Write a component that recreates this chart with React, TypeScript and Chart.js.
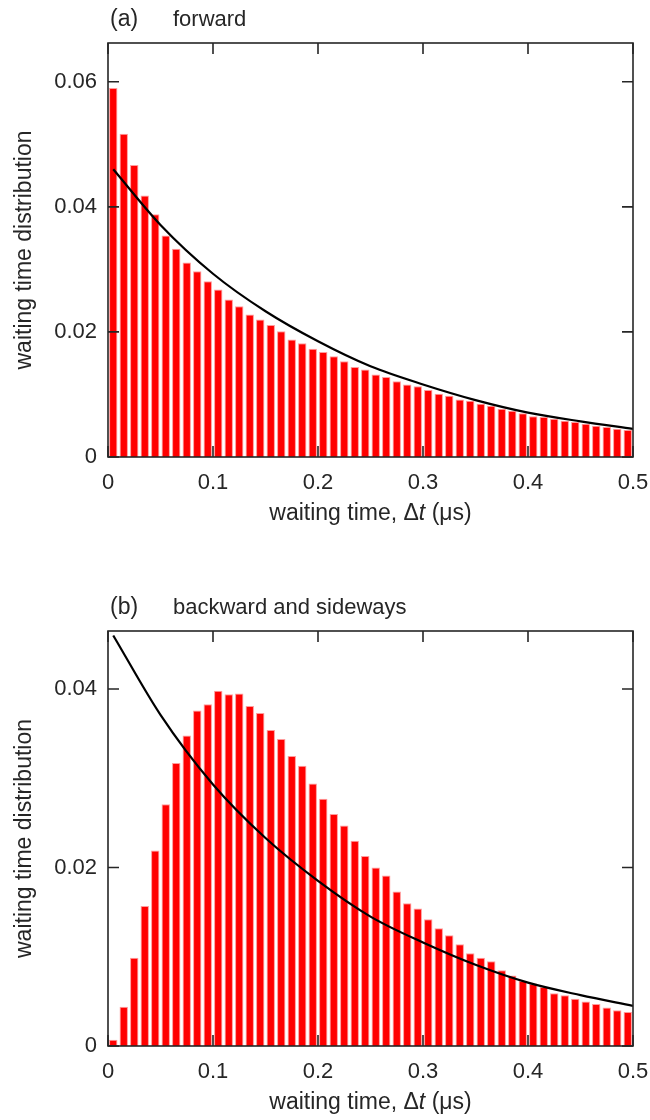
import React, { useEffect, useRef } from "react";
import { Chart, registerables } from "chart.js";

Chart.register(...registerables);

// ---------- data ----------
const binCenters = [
  0.005, 0.015, 0.025, 0.035, 0.045, 0.055, 0.065, 0.075, 0.085, 0.095,
  0.105, 0.115, 0.125, 0.135, 0.145, 0.155, 0.165, 0.175, 0.185, 0.195,
  0.205, 0.215, 0.225, 0.235, 0.245, 0.255, 0.265, 0.275, 0.285, 0.295,
  0.305, 0.315, 0.325, 0.335, 0.345, 0.355, 0.365, 0.375, 0.385, 0.395,
  0.405, 0.415, 0.425, 0.435, 0.445, 0.455, 0.465, 0.475, 0.485, 0.495,
];

const forwardValues = [
  0.0590, 0.0517, 0.0467, 0.0418, 0.0388, 0.0354, 0.0333, 0.0311, 0.0297, 0.0281,
  0.0268, 0.0252, 0.0241, 0.0228, 0.0220, 0.0211, 0.0201, 0.0188, 0.0182, 0.0173,
  0.0168, 0.0161, 0.0153, 0.0144, 0.0140, 0.0132, 0.0128, 0.0121, 0.0116, 0.0113,
  0.0107, 0.0101, 0.0098, 0.0092, 0.0090, 0.0085, 0.0082, 0.0077, 0.0074, 0.0070,
  0.0065, 0.0064, 0.0061, 0.0058, 0.0056, 0.0053, 0.0050, 0.0048, 0.0045, 0.0043,
];

const backwardValues = [
  0.0007, 0.0044, 0.0099, 0.0157, 0.0219, 0.0271, 0.0317, 0.0348, 0.0376, 0.0383,
  0.0398, 0.0394, 0.0395, 0.0381, 0.0373, 0.0354, 0.0344, 0.0325, 0.0314, 0.0294,
  0.0277, 0.0260, 0.0247, 0.0230, 0.0213, 0.0200, 0.0191, 0.0173, 0.0160, 0.0154,
  0.0142, 0.0132, 0.0124, 0.0114, 0.0104, 0.0099, 0.0095, 0.0085, 0.0079, 0.0073,
  0.0070, 0.0066, 0.0059, 0.0057, 0.0053, 0.0050, 0.0047, 0.0043, 0.0040, 0.0038,
];

const fitTimes = [0.005, 0.05, 0.1, 0.15, 0.2, 0.25, 0.3, 0.35, 0.4, 0.45, 0.5];
const fitValues = [0.0460, 0.0371, 0.0293, 0.0233, 0.0185, 0.0145, 0.0116, 0.0091, 0.0071, 0.0057, 0.0045];

const xTicks = [0, 0.1, 0.2, 0.3, 0.4, 0.5];
const xTickLabels = ["0", "0.1", "0.2", "0.3", "0.4", "0.5"];
const yTicksTop = [0, 0.02, 0.04, 0.06];
const yTickLabelsTop = ["0", "0.02", "0.04", "0.06"];
const yTicksBottom = [0, 0.02, 0.04];
const yTickLabelsBottom = ["0", "0.02", "0.04"];

const FONT = "'Liberation Sans', Arial, Helvetica, sans-serif";
const INK = "#262626";
const TICK_FONT = 22;
const TITLE_FONT = 23;

type PanelProps = {
  letter: string;
  name: string;
  values: number[];
  yMax: number;
  yTicks: number[];
  yLabels: string[];
  top: number;
  bottom: number;
};

function Panel(p: PanelProps) {
  const ref = useRef<HTMLCanvasElement | null>(null);
  useEffect(() => {
    const canvas = ref.current;
    if (!canvas) return;
    const W = 650;
    const H = 560;
    const left = 108;
    const right = 633;

    const decor = {
      id: "decor",
      afterDraw(chart: any) {
        const ctx = chart.ctx as CanvasRenderingContext2D;
        const a = chart.chartArea;
        const xs = chart.scales.x;
        const ys = chart.scales.y;
        ctx.save();
        ctx.strokeStyle = INK;
        ctx.lineWidth = 1.6;
        ctx.strokeRect(a.left, a.top, a.right - a.left, a.bottom - a.top);
        const tl = 11;
        ctx.beginPath();
        xTicks.forEach((v) => {
          const px = xs.getPixelForValue(v);
          ctx.moveTo(px, a.bottom);
          ctx.lineTo(px, a.bottom - tl);
          ctx.moveTo(px, a.top);
          ctx.lineTo(px, a.top + tl);
        });
        p.yTicks.forEach((v) => {
          const py = ys.getPixelForValue(v);
          ctx.moveTo(a.left, py);
          ctx.lineTo(a.left + tl, py);
          ctx.moveTo(a.right, py);
          ctx.lineTo(a.right - tl, py);
        });
        ctx.stroke();

        ctx.fillStyle = INK;
        // x title
        const xt1 = "waiting time, \u0394";
        const xt2 = "t";
        const xt3 = " (\u03bcs)";
        const fN = `${TITLE_FONT}px ${FONT}`;
        const fI = `italic ${TITLE_FONT}px ${FONT}`;
        ctx.font = fN;
        const w1 = ctx.measureText(xt1).width;
        const w3 = ctx.measureText(xt3).width;
        ctx.font = fI;
        const w2 = ctx.measureText(xt2).width;
        const cx = (a.left + a.right) / 2;
        let x0 = cx - (w1 + w2 + w3) / 2;
        const ty = a.bottom + 57;
        ctx.textBaseline = "middle";
        ctx.textAlign = "left";
        ctx.font = fN;
        ctx.fillText(xt1, x0, ty);
        x0 += w1;
        ctx.font = fI;
        ctx.fillText(xt2, x0, ty);
        x0 += w2;
        ctx.font = fN;
        ctx.fillText(xt3, x0, ty);

        // y title
        ctx.save();
        ctx.translate(25, (a.top + a.bottom) / 2);
        ctx.rotate(-Math.PI / 2);
        ctx.textAlign = "center";
        ctx.textBaseline = "middle";
        ctx.font = fN;
        ctx.fillText("waiting time distribution", 0, 0);
        ctx.restore();

        // panel title
        ctx.textAlign = "left";
        ctx.textBaseline = "middle";
        ctx.font = `${TITLE_FONT}px ${FONT}`;
        ctx.fillText(p.letter, 110, a.top - 23);
        ctx.font = `22px ${FONT}`;
        ctx.fillText(p.name, 173, a.top - 23);
        ctx.restore();
      },
    };

    const chart = new Chart(canvas, {
      type: "bar",
      data: {
        datasets: [
          {
            type: "line",
            data: fitTimes.map((t, i) => ({ x: t, y: fitValues[i] })),
            borderColor: "#000000",
            borderWidth: 2.2,
            pointRadius: 0,
            fill: false,
            cubicInterpolationMode: "monotone",
            order: 0,
          } as any,
          {
            type: "bar",
            data: binCenters.map((t, i) => ({ x: t, y: p.values[i] })),
            backgroundColor: "#ff0000",
            borderColor: "#ff9c9c",
            borderWidth: { top: 1, left: 1, right: 1, bottom: 0 },
            borderSkipped: "bottom",
            barPercentage: 0.8,
            categoryPercentage: 1,
            order: 1,
          } as any,
        ],
      },
      options: {
        responsive: false,
        animation: false,
        devicePixelRatio: 1,
        layout: { padding: { left: 0, right: W - right, top: p.top, bottom: 0 } },
        plugins: { legend: { display: false }, tooltip: { enabled: false }, title: { display: false } },
        scales: {
          x: {
            type: "linear",
            min: 0,
            max: 0.5,
            offset: false,
            grid: { display: false, drawTicks: false },
            border: { display: false },
            afterBuildTicks: (s: any) => {
              s.ticks = xTicks.map((v) => ({ value: v }));
            },
            afterFit: (s: any) => {
              s.height = H - p.bottom;
              s.paddingLeft = 0;
              s.paddingRight = 0;
            },
            ticks: {
              padding: 13,
              maxRotation: 0,
              autoSkip: false,
              color: INK,
              font: { family: FONT, size: TICK_FONT },
              callback: (v: any) => {
                const i = xTicks.indexOf(Number(v));
                return i >= 0 ? xTickLabels[i] : "";
              },
            },
          },
          y: {
            type: "linear",
            min: 0,
            max: p.yMax,
            grid: { display: false, drawTicks: false },
            border: { display: false },
            afterBuildTicks: (s: any) => {
              s.ticks = p.yTicks.map((v) => ({ value: v }));
            },
            afterFit: (s: any) => {
              s.width = left;
              s.paddingTop = 0;
              s.paddingBottom = 0;
            },
            ticks: {
              padding: 11,
              autoSkip: false,
              color: INK,
              font: { family: FONT, size: TICK_FONT },
              callback: (v: any) => {
                const i = p.yTicks.indexOf(Number(v));
                return i >= 0 ? p.yLabels[i] : "";
              },
            },
          },
        },
      },
      plugins: [decor],
    });
    return () => chart.destroy();
  }, []);
  return <canvas ref={ref} width={650} height={560} style={{ display: "block", width: 650, height: 560 }} />;
}

export default function App() {
  return (
    <div style={{ position: "fixed", left: 0, top: 0, width: 650, height: 1120, background: "#fff" }}>
      <Panel
        letter="(a)"
        name="forward"
        values={forwardValues}
        yMax={0.0662}
        yTicks={yTicksTop}
        yLabels={yTickLabelsTop}
        top={43}
        bottom={457}
      />
      <Panel
        letter="(b)"
        name="backward and sideways"
        values={backwardValues}
        yMax={0.0465}
        yTicks={yTicksBottom}
        yLabels={yTickLabelsBottom}
        top={71}
        bottom={486}
      />
    </div>
  );
}
